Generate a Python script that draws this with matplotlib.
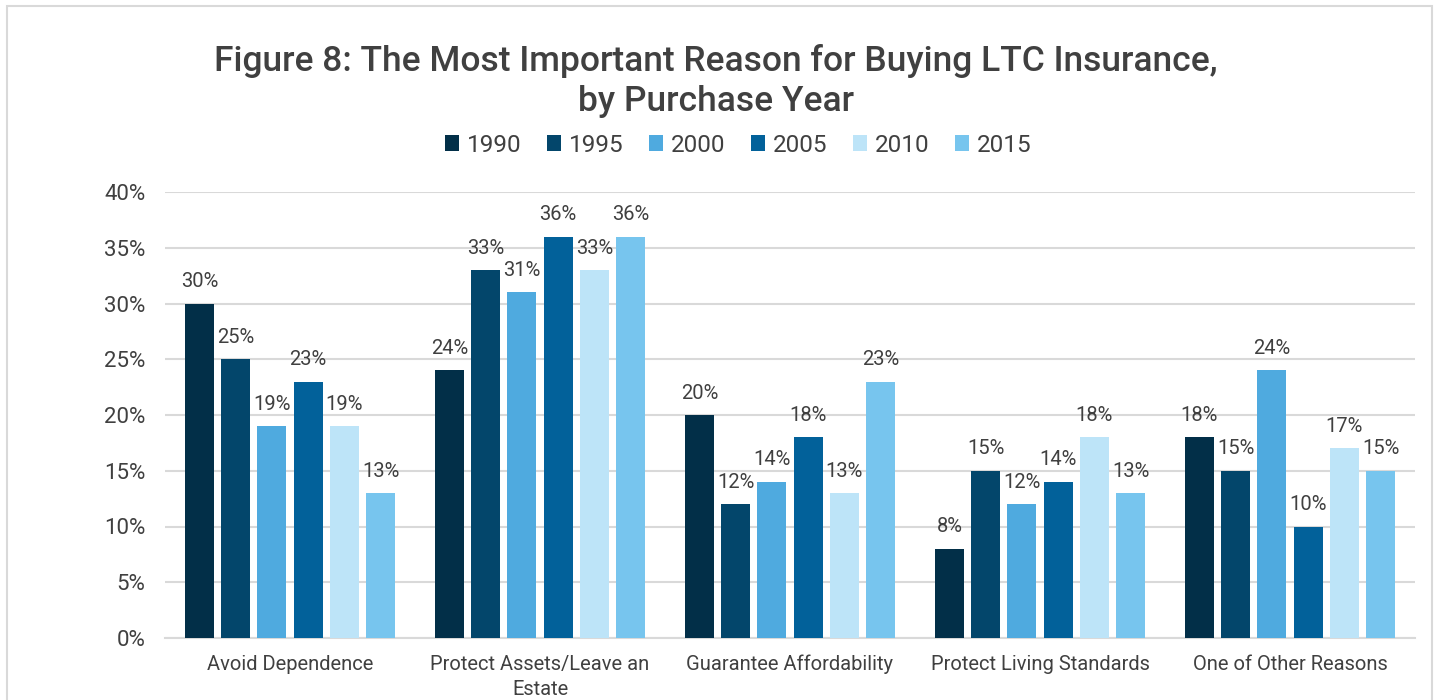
import matplotlib
matplotlib.use("Agg")
import matplotlib.pyplot as plt
import numpy as np
from matplotlib.patches import Rectangle

categories = ["Avoid Dependence", "Protect Assets/Leave an\nEstate", "Guarantee Affordability",
              "Protect Living Standards", "One of Other Reasons"]
years = ["1990", "1995", "2000", "2005", "2010", "2015"]
values = {
    "1990": [30, 24, 20, 8, 18],
    "1995": [25, 33, 12, 15, 15],
    "2000": [19, 31, 14, 12, 24],
    "2005": [23, 36, 18, 14, 10],
    "2010": [19, 33, 13, 18, 17],
    "2015": [13, 36, 23, 13, 15],
}
colors = ["#022F48", "#03466B", "#4FAADF", "#02619A", "#BDE4F8", "#77C5EE"]
title = "Figure 8: The Most Important Reason for Buying LTC Insurance,\nby Purchase Year"

text_color = "#404040"
plt.rcParams['font.family'] = ['Roboto', 'DejaVu Sans']

fig = plt.figure(figsize=(14.39, 7.0), dpi=100)
fig.patches.append(Rectangle((7/1439, -0.1), (1432-7)/1439, 1 - 6/700 + 0.1,
                             transform=fig.transFigure, fill=False,
                             edgecolor="#D9D9D9", linewidth=1.5))
ax = fig.add_axes([165/1439, 1-638/700, (1415-165)/1439, (638-192)/700])

x = np.arange(len(categories))
step = 0.145
width = 0.116
n = len(years)
for i, (yr, c) in enumerate(zip(years, colors)):
    offs = (i - (n-1)/2) * step
    bars = ax.bar(x + offs, values[yr], width=width, color=c, label=yr, zorder=3)
    for b, v in zip(bars, values[yr]):
        ax.annotate(f"{v}%", (b.get_x() + b.get_width()/2, v), xytext=(0, 9),
                    textcoords="offset points", ha="center", va="bottom",
                    fontsize=14.5, color=text_color)

ax.set_xlim(-0.5, len(categories) - 0.5)
ax.set_ylim(0, 40)
ax.set_yticks(range(0, 41, 5))
ax.set_yticklabels([f"{t}%" for t in range(0, 41, 5)], fontsize=16, color=text_color)
ax.set_xticks(x)
ax.set_xticklabels(categories, fontsize=14.5, color=text_color, linespacing=1.4)
ax.tick_params(axis="both", length=0)
ax.tick_params(axis="y", pad=14)
ax.tick_params(axis="x", pad=12)
ax.grid(axis="y", color="#D9D9D9", linewidth=1.5, zorder=0)
for s in ["top", "right", "left"]:
    ax.spines[s].set_visible(False)
ax.spines["bottom"].set_color("#D9D9D9")
ax.spines["bottom"].set_linewidth(1.5)

fig.text(716/1439, 1-81/700, title, ha="center", va="center", fontsize=25.5,
         fontweight="medium", color=text_color, linespacing=1.3)

leg = fig.legend(loc="center", bbox_to_anchor=(738/1439, 1-145/700), ncol=6, frameon=False,
                 fontsize=17.5, handlelength=0.6, handleheight=0.6, handletextpad=0.3,
                 columnspacing=1.05)
for t in leg.get_texts():
    t.set_color(text_color)

fig.savefig("out.png", dpi=100)
